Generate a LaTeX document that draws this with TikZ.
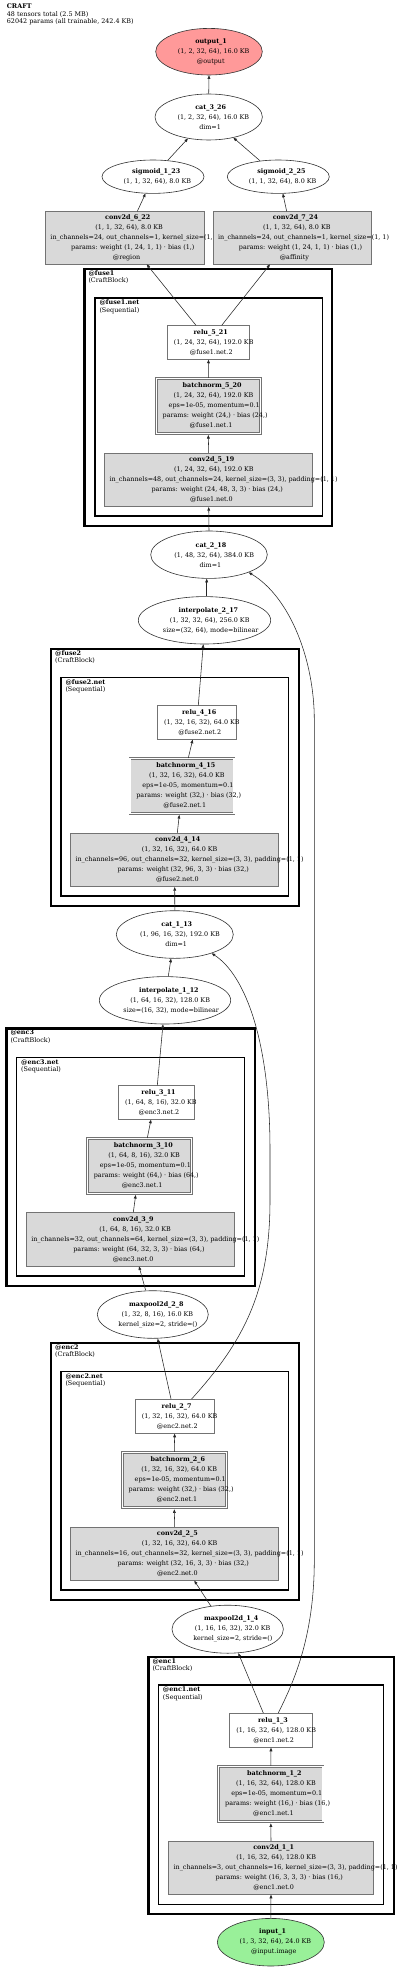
\documentclass[tikz,border=0pt]{standalone}
\usepackage{fontspec}
\setmainfont{DejaVu Serif}
\usetikzlibrary{shapes.geometric,arrows.meta}
\definecolor{boxgray}{HTML}{D9D9D9}
\definecolor{outred}{HTML}{FF9999}
\definecolor{ingreen}{HTML}{99F099}
\newsavebox\glbox
\newcommand\gl[1]{\sbox\glbox{#1}\makebox[0pt][l]{\hspace{-0.435\wd\glbox}\usebox\glbox}}
\newcommand\nf{\fontsize{6.4}{10}\selectfont}
\newcommand\hf{\fontsize{6.4}{7.3}\selectfont}
\tikzset{
  ell/.style={ellipse, draw=black!80, line width=0.6pt, inner sep=0pt, align=center, font=\nf},
  opbox/.style={rectangle, draw=black!55, line width=0.7pt, fill=boxgray, inner sep=0pt, align=center, font=\nf},
  relubox/.style={opbox, fill=white},
  bnbox/.style={opbox, double=white, double distance=1.3pt},
  conn/.style={draw=black!85, line width=0.55pt, -{Triangle[length=3.6pt,width=2.8pt]}},
  outercl/.style={draw=black, line width=2.2pt},
  innercl/.style={draw=black, line width=1.4pt},
  cltitle/.style={anchor=base west, inner sep=0pt, font=\hf\bfseries},
  clsub/.style={anchor=base west, inner sep=0pt, font=\hf},
}
\begin{document}
\begin{tikzpicture}[x=1pt,y=-1pt]
\fill[white] (0,0) rectangle (400,1969);
\useasboundingbox (0,0) rectangle (400,1969);

% header
\node[cltitle] (hdr1) at (6.7,9) {CRAFT};
\node[clsub] (hdr2) at (6.7,16.3) {48 tensors total (2.5 MB)};
\node[clsub] (hdr3) at (6.7,23.6) {62042 params (all trainable, 242.4 KB)};

% clusters
\draw[outercl] (84.4,268.8) rectangle (332.2,526.2);
\draw[innercl] (95,298) rectangle (322.6,516);
\node[cltitle] (lfuse1) at (88.3,275.1) {@fuse1};
\node[clsub] (lfuse1b) at (88.3,282.4) {(CraftBlock)};
\node[cltitle] (lfuse1n) at (99.3,304.7) {@fuse1.net};
\node[clsub] (lfuse1nb) at (99.3,312) {(Sequential)};

\draw[outercl] (51.1,648.8) rectangle (298.9,905.9);
\draw[innercl] (61,677.7) rectangle (288.6,896);
\node[cltitle] (lfuse2) at (55,655.1) {@fuse2};
\node[clsub] (lfuse2b) at (55,662.4) {(CraftBlock)};
\node[cltitle] (lfuse2n) at (65.3,684.4) {@fuse2.net};
\node[clsub] (lfuse2nb) at (65.3,691.7) {(Sequential)};

\draw[outercl] (6.4,1028.4) rectangle (254.6,1285.9);
\draw[innercl] (16.7,1057.4) rectangle (244.6,1276);
\node[cltitle] (lenc3) at (10.3,1034.7) {@enc3};
\node[clsub] (lenc3b) at (10.3,1042) {(CraftBlock)};
\node[cltitle] (lenc3n) at (21,1064.1) {@enc3.net};
\node[clsub] (lenc3nb) at (21,1071.4) {(Sequential)};

\draw[outercl] (51.1,1342.8) rectangle (298.9,1599.9);
\draw[innercl] (61,1371.4) rectangle (288.6,1590);
\node[cltitle] (lenc2) at (55,1349.1) {@enc2};
\node[clsub] (lenc2b) at (55,1356.4) {(CraftBlock)};
\node[cltitle] (lenc2n) at (65.3,1378.1) {@enc2.net};
\node[clsub] (lenc2nb) at (65.3,1385.4) {(Sequential)};

\draw[outercl] (148.4,1656.8) rectangle (393.9,1913.9);
\draw[innercl] (158.4,1685) rectangle (383.6,1904.3);
\node[cltitle] (lenc1) at (152.3,1663.1) {@enc1};
\node[clsub] (lenc1b) at (152.3,1670.4) {(CraftBlock)};
\node[cltitle] (lenc1n) at (162.7,1691.7) {@enc1.net};
\node[clsub] (lenc1nb) at (162.7,1699) {(Sequential)};

% nodes
\node[ell, fill=outred, minimum width=106.6pt, minimum height=46.6pt] (output1) at (209,51.7)
 {\gl{\bfseries output\_1}\\\gl{(1, 2, 32, 64), 16.0 KB}\\\gl{@output}};
\node[ell, minimum width=107.4pt, minimum height=46pt] (cat326) at (208.7,117)
 {\gl{\bfseries cat\_3\_26}\\\gl{(1, 2, 32, 64), 16.0 KB}\\\gl{dim=1}};
\node[ell, minimum width=102pt, minimum height=33.4pt] (sig123) at (153,176.7)
 {\gl{\bfseries sigmoid\_1\_23}\\\gl{(1, 1, 32, 64), 8.0 KB}};
\node[ell, minimum width=102pt, minimum height=33.4pt] (sig225) at (278.3,176.7)
 {\gl{\bfseries sigmoid\_2\_25}\\\gl{(1, 1, 32, 64), 8.0 KB}};
\node[opbox, minimum width=159pt, minimum height=52.3pt] (conv622) at (124.8,237.85)
 {\gl{\bfseries conv2d\_6\_22}\\\gl{(1, 1, 32, 64), 8.0 KB}\\\gl{in\_channels=24, out\_channels=1, kernel\_size=(1, 1)}\\\gl{params: weight (1, 24, 1, 1) · bias (1,)}\\\gl{@region}};
\node[opbox, minimum width=158.4pt, minimum height=52.3pt] (conv724) at (292.5,237.85)
 {\gl{\bfseries conv2d\_7\_24}\\\gl{(1, 1, 32, 64), 8.0 KB}\\\gl{in\_channels=24, out\_channels=1, kernel\_size=(1, 1)}\\\gl{params: weight (1, 24, 1, 1) · bias (1,)}\\\gl{@affinity}};

\node[relubox, minimum width=82.4pt, minimum height=33.6pt] (relu521) at (208.5,342.5)
 {\gl{\bfseries relu\_5\_21}\\\gl{(1, 24, 32, 64), 192.0 KB}\\\gl{@fuse1.net.2}};
\node[bnbox, minimum width=104pt, minimum height=55pt] (bn520) at (208.3,405.8)
 {\gl{\bfseries batchnorm\_5\_20}\\\gl{(1, 24, 32, 64), 192.0 KB}\\\gl{eps=1e-05, momentum=0.1}\\\gl{params: weight (24,) · bias (24,)}\\\gl{@fuse1.net.1}};
\node[opbox, minimum width=208pt, minimum height=53.4pt] (conv519) at (208.7,480)
 {\gl{\bfseries conv2d\_5\_19}\\\gl{(1, 24, 32, 64), 192.0 KB}\\\gl{in\_channels=48, out\_channels=24, kernel\_size=(3, 3), padding=(1, 1)}\\\gl{params: weight (24, 48, 3, 3) · bias (24,)}\\\gl{@fuse1.net.0}};
\node[ell, minimum width=116.6pt, minimum height=47.4pt] (cat218) at (209,554.7)
 {\gl{\bfseries cat\_2\_18}\\\gl{(1, 48, 32, 64), 384.0 KB}\\\gl{dim=1}};
\node[ell, minimum width=132.4pt, minimum height=47.4pt] (interp217) at (204.5,620.3)
 {\gl{\bfseries interpolate\_2\_17}\\\gl{(1, 32, 32, 64), 256.0 KB}\\\gl{size=(32, 64), mode=bilinear}};

\node[relubox, minimum width=79.4pt, minimum height=33.6pt] (relu416) at (197,722.5)
 {\gl{\bfseries relu\_4\_16}\\\gl{(1, 32, 16, 32), 64.0 KB}\\\gl{@fuse2.net.2}};
\node[bnbox, minimum width=104pt, minimum height=55pt] (bn415) at (182,785.8)
 {\gl{\bfseries batchnorm\_4\_15}\\\gl{(1, 32, 16, 32), 64.0 KB}\\\gl{eps=1e-05, momentum=0.1}\\\gl{params: weight (32,) · bias (32,)}\\\gl{@fuse2.net.1}};
\node[opbox, minimum width=208pt, minimum height=53.4pt] (conv414) at (174.7,860)
 {\gl{\bfseries conv2d\_4\_14}\\\gl{(1, 32, 16, 32), 64.0 KB}\\\gl{in\_channels=96, out\_channels=32, kernel\_size=(3, 3), padding=(1, 1)}\\\gl{params: weight (32, 96, 3, 3) · bias (32,)}\\\gl{@fuse2.net.0}};
\node[ell, minimum width=117pt, minimum height=47.6pt] (cat113) at (174.8,934.5)
 {\gl{\bfseries cat\_1\_13}\\\gl{(1, 96, 16, 32), 192.0 KB}\\\gl{dim=1}};
\node[ell, minimum width=131.4pt, minimum height=47.4pt] (interp112) at (165,1000.3)
 {\gl{\bfseries interpolate\_1\_12}\\\gl{(1, 64, 16, 32), 128.0 KB}\\\gl{size=(16, 32), mode=bilinear}};

\node[relubox, minimum width=76pt, minimum height=33.6pt] (relu311) at (156.3,1102.5)
 {\gl{\bfseries relu\_3\_11}\\\gl{(1, 64, 8, 16), 32.0 KB}\\\gl{@enc3.net.2}};
\node[bnbox, minimum width=104.4pt, minimum height=55pt] (bn310) at (139.5,1165.8)
 {\gl{\bfseries batchnorm\_3\_10}\\\gl{(1, 64, 8, 16), 32.0 KB}\\\gl{eps=1e-05, momentum=0.1}\\\gl{params: weight (64,) · bias (64,)}\\\gl{@enc3.net.1}};
\node[opbox, minimum width=208.4pt, minimum height=53.3pt] (conv39) at (130.5,1239.35)
 {\gl{\bfseries conv2d\_3\_9}\\\gl{(1, 64, 8, 16), 32.0 KB}\\\gl{in\_channels=32, out\_channels=64, kernel\_size=(3, 3), padding=(1, 1)}\\\gl{params: weight (64, 32, 3, 3) · bias (64,)}\\\gl{@enc3.net.0}};
\node[ell, minimum width=111pt, minimum height=47.6pt] (mp28) at (152.8,1314.5)
 {\gl{\bfseries maxpool2d\_2\_8}\\\gl{(1, 32, 8, 16), 16.0 KB}\\\gl{kernel\_size=2, stride=()}};

\node[relubox, minimum width=78.7pt, minimum height=34pt] (relu27) at (174.65,1416.3)
 {\gl{\bfseries relu\_2\_7}\\\gl{(1, 32, 16, 32), 64.0 KB}\\\gl{@enc2.net.2}};
\node[bnbox, minimum width=104pt, minimum height=55.4pt] (bn26) at (174.3,1480)
 {\gl{\bfseries batchnorm\_2\_6}\\\gl{(1, 32, 16, 32), 64.0 KB}\\\gl{eps=1e-05, momentum=0.1}\\\gl{params: weight (32,) · bias (32,)}\\\gl{@enc2.net.1}};
\node[opbox, minimum width=208pt, minimum height=53pt] (conv25) at (174.7,1553.8)
 {\gl{\bfseries conv2d\_2\_5}\\\gl{(1, 32, 16, 32), 64.0 KB}\\\gl{in\_channels=16, out\_channels=32, kernel\_size=(3, 3), padding=(1, 1)}\\\gl{params: weight (32, 16, 3, 3) · bias (32,)}\\\gl{@enc2.net.0}};
\node[ell, minimum width=111.4pt, minimum height=48pt] (mp14) at (227.7,1629.2)
 {\gl{\bfseries maxpool2d\_1\_4}\\\gl{(1, 16, 16, 32), 32.0 KB}\\\gl{kernel\_size=2, stride=()}};

\node[relubox, minimum width=82.6pt, minimum height=34pt] (relu13) at (271,1730.3)
 {\gl{\bfseries relu\_1\_3}\\\gl{(1, 16, 32, 64), 128.0 KB}\\\gl{@enc1.net.2}};
\node[bnbox, minimum width=104.3pt, minimum height=55.4pt] (bn12) at (270.85,1794)
 {\gl{\bfseries batchnorm\_1\_2}\\\gl{(1, 16, 32, 64), 128.0 KB}\\\gl{eps=1e-05, momentum=0.1}\\\gl{params: weight (16,) · bias (16,)}\\\gl{@enc1.net.1}};
\node[opbox, minimum width=204.6pt, minimum height=53pt] (conv11) at (271,1867.8)
 {\gl{\bfseries conv2d\_1\_1}\\\gl{(1, 16, 32, 64), 128.0 KB}\\\gl{in\_channels=3, out\_channels=16, kernel\_size=(3, 3), padding=(1, 1)}\\\gl{params: weight (16, 3, 3, 3) · bias (16,)}\\\gl{@enc1.net.0}};
\node[ell, fill=ingreen, minimum width=107pt, minimum height=47.6pt] (input1) at (270.8,1942.2)
 {\gl{\bfseries input\_1}\\\gl{(1, 3, 32, 64), 24.0 KB}\\\gl{@input.image}};

% connectors
\draw[conn] (cat326.north) -- (output1.south);
\draw[conn] (sig123.48) -- (cat326.226);
\draw[conn] (sig225.139) -- (cat326.320);
\draw[conn] ([xshift=12.5pt]conv622.north) -- (sig123.246);
\draw[conn] ([xshift=-5.8pt]conv724.north) -- (sig225.285);
\draw[conn] ([xshift=-12.5pt]relu521.north) -- ([xshift=21.9pt]conv622.south);
\draw[conn] ([xshift=13.2pt]relu521.north) -- ([xshift=-22.5pt]conv724.south);
\draw[conn] (bn520.north) -- (relu521.south);
\draw[conn] (conv519.north) -- ([yshift=-1.3pt]bn520.south);
\draw[conn] (cat218.north) -- (conv519.south);
\draw[conn] ([xshift=2.2pt]interp217.north) -- ([xshift=-2.3pt]cat218.south);
\draw[conn] ([xshift=1.3pt]relu416.north) -- ([xshift=-1.2pt]interp217.south);
\draw[conn] ([xshift=6.3pt]bn415.north) -- ([xshift=-4.3pt]relu416.south);
\draw[conn] ([xshift=2.6pt]conv414.north) -- ([xshift=-2.7pt,yshift=-1.3pt]bn415.south);
\draw[conn] (cat113.north) -- (conv414.south);
\draw[conn] ([xshift=3.3pt]interp112.north) -- ([xshift=-3.8pt]cat113.south);
\draw[conn] ([xshift=1pt]relu311.north) -- ([xshift=-2pt]interp112.south);
\draw[conn] ([xshift=7.8pt]bn310.north) -- ([xshift=-5.3pt]relu311.south);
\draw[conn] ([xshift=2.8pt]conv39.north) -- ([xshift=-3.8pt,yshift=-1.3pt]bn310.south);
\draw[conn] ([xshift=-7.1pt]mp28.north) -- ([xshift=8.5pt]conv39.south);
\draw[conn] ([xshift=-3.65pt]relu27.north) -- ([xshift=4.9pt]mp28.south);
\draw[conn] (bn26.north) -- (relu27.south);
\draw[conn] (conv25.north) -- ([yshift=-1.3pt]bn26.south);
\draw[conn] (mp14.126) -- ([xshift=19.6pt]conv25.south);
\draw[conn] ([xshift=-7.7pt]relu13.north) -- (mp14.294);
\draw[conn] (bn12.north) -- (relu13.south);
\draw[conn] (conv11.north) -- ([yshift=-1.3pt]bn12.south);
\draw[conn] (input1.north) -- (conv11.south);
% long skip connections
\draw[conn] ([xshift=17pt]relu27.north) .. controls (245,1340) and (270,1290) .. (270,1200)
  -- (270,1150) .. controls (270,1040) and (245,975) .. (cat113.333);
\draw[conn] ([xshift=7.3pt]relu13.north) .. controls (292,1685) and (314.3,1640) .. (314.3,1560)
  -- (314.3,720) .. controls (314.3,660) and (290,597) .. (cat218.336);
\end{tikzpicture}
\end{document}
